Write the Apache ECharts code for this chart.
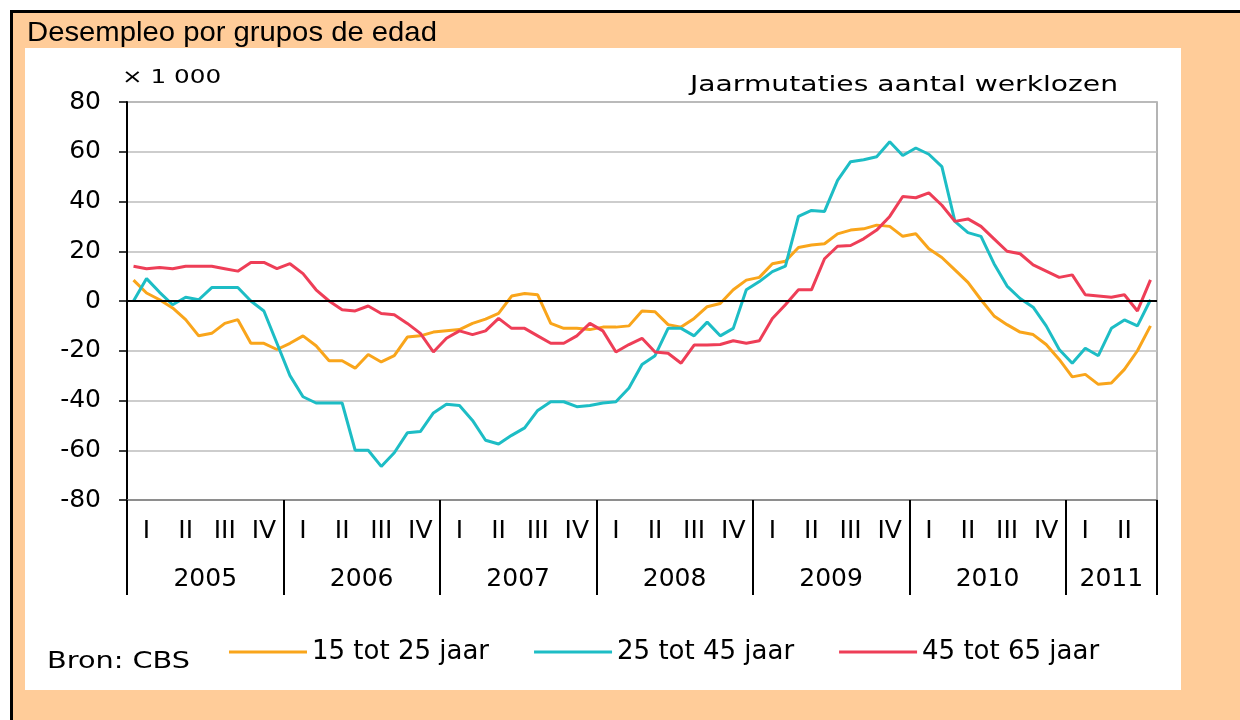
<!DOCTYPE html>
<html>
<head>
<meta charset="utf-8">
<script src="https://cdn.jsdelivr.net/npm/echarts@6/dist/echarts.min.js"></script>
<style>
html,body{margin:0;padding:0;background:#fff;width:1240px;height:720px;overflow:hidden}
#frame{position:absolute;left:10px;top:10px;width:1230px;height:710px;background:#FFCC99;border-top:3px solid #000;border-left:3px solid #000;box-sizing:border-box}
#panel{position:absolute;left:25px;top:48px;width:1156px;height:642px;background:#fff}
#chart{position:absolute;left:0;top:0;width:1240px;height:720px}
</style>
</head>
<body>
<div id="frame"></div>
<div id="panel"></div>
<div id="chart"></div>
<script>
// ---- data ----
const years = ['2005', '2006', '2007', '2008', '2009', '2010', '2011'];
const monthsInYear = [12, 12, 12, 12, 12, 12, 7];
const quarterLabels = ['I', 'II', 'III', 'IV'];
const seriesNames = ['15 tot 25 jaar', '25 tot 45 jaar', '45 tot 65 jaar'];

const age15to25 = [
  8.4, 3.2, 0.5, -2.8, -7.5, -14, -13, -9, -7.5, -17, -17, -19.5,
  -17, -14, -18, -24, -24, -27, -21.5, -24.5, -22, -14.5, -14, -12.5,
  -12, -11.5, -9, -7.3, -5, 2, 3, 2.5, -9, -11, -11, -11.5,
  -10.5, -10.5, -10, -4, -4.3, -9.5, -10.5, -7, -2.3, -1, 4.5, 8.4,
  9.5, 15, 16, 21.5, 22.5, 23, 27, 28.5, 29, 30.5, 30, 26,
  27, 21, 17.5, 12.5, 7.5, 0.5, -6, -9.5, -12.5, -13.5, -17.5, -23.5,
  -30.5, -29.5, -33.5, -33, -27.5, -20, -10
];
const age25to45 = [
  0, 9, 3.5, -1.5, 1.5, 0.5, 5.4, 5.4, 5.4, 0, -4, -17,
  -30, -38.5, -41, -41, -41, -60, -60, -66.5, -61, -53, -52.5, -45,
  -41.5, -42, -48, -56, -57.5, -54, -51, -44, -40.5, -40.5, -42.5, -42,
  -41, -40.5, -35, -25.5, -22, -11, -11, -14, -8.5, -14, -11, 4.5,
  7.8, 11.8, 14, 34, 36.4, 36, 48.5, 56, 56.8, 58, 64, 58.5,
  61.5, 59, 54, 32, 27.5, 26, 15, 6, 1, -2.5, -10, -19.5,
  -25, -19, -22, -11, -7.6, -10, 0.5
];
const age45to65 = [
  14, 13, 13.5, 13, 14, 14, 14, 13, 12, 15.5, 15.5, 13,
  15, 11, 4.5, 0, -3.5, -4, -2, -5, -5.5, -9, -13, -20.5,
  -15, -12, -13.5, -12, -7, -11, -11, -14, -17, -17, -14, -9,
  -12, -20.5, -17.5, -15, -20.5, -21, -25, -17.7, -17.7, -17.5, -16, -17,
  -16, -7, -1.5, 4.5, 4.5, 17, 22, 22.3, 25, 28.5, 34, 42,
  41.5, 43.5, 38.5, 32, 33, 30, 25, 20, 19, 14.5, 12, 9.5,
  10.5, 2.5, 2, 1.5, 2.5, -4, 8.5
];

// ---- derived axis structures ----
const categories = [];
const yearBounds = [0];
const yearCenters = [];
let start = 0;
years.forEach((y, k) => {
  for (let m = 1; m <= monthsInYear[k]; m++) categories.push(y + '-' + m);
  yearCenters.push(start + monthsInYear[k] / 2);
  start += monthsInYear[k];
  yearBounds.push(start);
});

const FONT = 'DejaVu Sans';
const chart = echarts.init(document.getElementById('chart'), null, {renderer: 'canvas'});

const option = {
  animation: false,
  backgroundColor: 'transparent',
  color: ['#F9A51B', '#1DBDC5', '#EE3E57'],
  grid: {
    left: 127, right: 83, top: 102, bottom: 220,
    show: true, borderColor: '#9c9c9c', borderWidth: 1.5, backgroundColor: '#fff'
  },
  legend: {
    left: 229, top: 639, padding: 0,
    icon: 'rect', itemWidth: 78, itemHeight: 3, itemGap: 45,
    textStyle: {fontFamily: FONT, fontSize: 26, color: '#000'},
    data: seriesNames
  },
  xAxis: [
    {
      type: 'category', data: categories, boundaryGap: true, position: 'bottom',
      axisLine: {show: true, onZero: false, lineStyle: {color: '#808080', width: 1.5}},
      axisTick: {show: false},
      axisLabel: {
        interval: (i) => i % 3 === 1,
        formatter: (v, i) => quarterLabels[Math.floor((i % 12) / 3)],
        margin: 19, fontFamily: FONT, fontSize: 25, color: '#000', hideOverlap: false
      },
      splitLine: {show: false}
    },
    {
      type: 'value', min: 0, max: categories.length, position: 'bottom',
      axisLine: {show: false, onZero: false},
      axisTick: {show: true, customValues: yearBounds, length: 95, inside: false,
        lineStyle: {color: '#000', width: 2}},
      axisLabel: {
        customValues: yearCenters,
        formatter: (v) => {
          const k = yearCenters.findIndex(c => Math.abs(c - v) < 1e-6);
          return k >= 0 ? years[k] : '';
        },
        margin: 67, fontFamily: FONT, fontSize: 25, color: '#000'
      },
      splitLine: {show: false}
    }
  ],
  yAxis: {
    type: 'value', min: -80, max: 80, interval: 20,
    axisLine: {show: true, lineStyle: {color: '#000', width: 2}},
    axisTick: {show: true, length: 8, lineStyle: {color: '#000', width: 1.5}},
    axisLabel: {margin: 26, fontFamily: FONT, fontSize: 25, color: '#000'},
    splitLine: {show: true, lineStyle: {color: '#bdbdbd', width: 1.5}}
  },
  series: [
    {
      name: seriesNames[0], type: 'line', data: age15to25, showSymbol: false,
      lineStyle: {width: 3}, xAxisIndex: 0, yAxisIndex: 0,
      markLine: {
        silent: true, symbol: ['none', 'none'], label: {show: false},
        lineStyle: {color: '#000', width: 1.8, type: 'solid'},
        data: [{yAxis: 0}]
      }
    },
    {name: seriesNames[1], type: 'line', data: age25to45, showSymbol: false,
     lineStyle: {width: 3}, xAxisIndex: 0, yAxisIndex: 0},
    {name: seriesNames[2], type: 'line', data: age45to65, showSymbol: false,
     lineStyle: {width: 3}, xAxisIndex: 0, yAxisIndex: 0}
  ],
  graphic: [
    {type: 'text', x: 27, y: 33.5, scaleX: 1.045, silent: true,
     style: {text: 'Desempleo por grupos de edad', font: '28px "Liberation Sans"', fill: '#000',
       align: 'left', verticalAlign: 'middle', textAlign: 'left', textVerticalAlign: 'middle'}},
    {type: 'text', x: 122, y: 78, scaleX: 1.3, silent: true,
     style: {text: '× 1 000', font: '19px "DejaVu Sans"', fill: '#000',
       align: 'left', verticalAlign: 'middle', textAlign: 'left', textVerticalAlign: 'middle'}},
    {type: 'text', x: 1118, y: 85, scaleX: 1.28, silent: true,
     style: {text: 'Jaarmutaties aantal werklozen', font: '22px "DejaVu Sans"', fill: '#000',
       align: 'right', verticalAlign: 'middle', textAlign: 'right', textVerticalAlign: 'middle'}},
    {type: 'text', x: 47, y: 662, scaleX: 1.25, silent: true,
     style: {text: 'Bron: CBS', font: '23px "DejaVu Sans"', fill: '#000',
       align: 'left', verticalAlign: 'middle', textAlign: 'left', textVerticalAlign: 'middle'}}
  ]
};
chart.setOption(option);
</script>
</body>
</html>
